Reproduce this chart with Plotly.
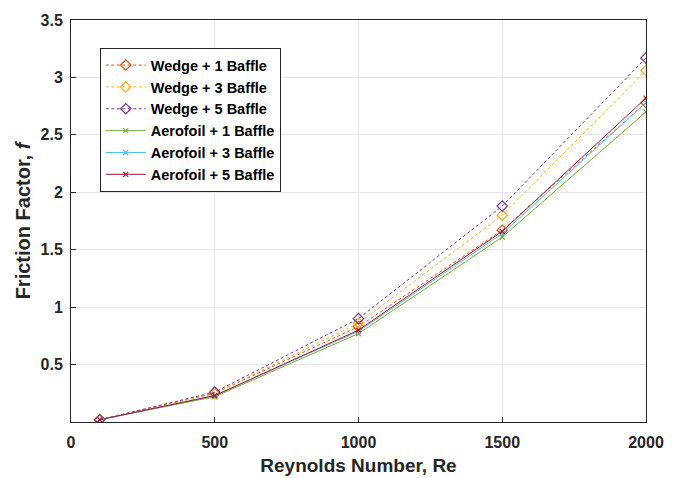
import plotly.graph_objects as go

# Reynolds numbers tested
re = [100, 500, 1000, 1500, 2000]

# Friction factor for each baffle configuration
wedge_1 = [0.02, 0.25, 0.83, 1.67, 2.78]
wedge_3 = [0.02, 0.25, 0.86, 1.80, 3.06]
wedge_5 = [0.02, 0.26, 0.90, 1.88, 3.17]
aero_1 = [0.02, 0.22, 0.77, 1.61, 2.70]
aero_3 = [0.02, 0.23, 0.79, 1.64, 2.78]
aero_5 = [0.02, 0.23, 0.80, 1.66, 2.82]

x_ticks = [0, 500, 1000, 1500, 2000]
y_ticks = [0.5, 1, 1.5, 2, 2.5, 3, 3.5]

font = "Liberation Sans, Arial, sans-serif"
ink = "#262626"

series = [
    ("Wedge + 1 Baffle", wedge_1, "#D95319", "3px,2.5px", "diamond-open", 8),
    ("Wedge + 3 Baffle", wedge_3, "#EDB120", "3px,2.5px", "diamond-open", 8),
    ("Wedge + 5 Baffle", wedge_5, "#7E2F8E", "3px,2.5px", "diamond-open", 8),
    ("Aerofoil + 1 Baffle", aero_1, "#77AC30", "solid", "x-thin-open", 5),
    ("Aerofoil + 3 Baffle", aero_3, "#4DBEEE", "solid", "x-thin-open", 5),
    ("Aerofoil + 5 Baffle", aero_5, "#A2142F", "solid", "x-thin-open", 5),
]

fig = go.Figure()
for name, vals, color, dash, sym, size in series:
    fig.add_trace(go.Scatter(
        x=re, y=vals, name=name, mode="lines+markers",
        line=dict(color=color, width=1, dash=dash),
        marker=dict(symbol=sym, size=size, color=color,
                    line=dict(color=color, width=1.2)),
    ))

axis_common = dict(
    showline=True, linecolor=ink, linewidth=1, mirror=True,
    ticks="inside", ticklen=5, tickcolor=ink,
    showgrid=True, gridcolor="#E6E6E6", gridwidth=1,
    zeroline=False, automargin=False,
    tickfont=dict(family=font, size=16, color=ink, weight="bold"),
)

fig.update_xaxes(
    range=[0, 2000], tickvals=x_ticks, ticktext=[str(v) for v in x_ticks],
    ticklabelstandoff=6,
    title=dict(text="Reynolds Number, Re", standoff=8,
               font=dict(family=font, size=19, color=ink, weight="bold")),
    **axis_common,
)
fig.update_yaxes(
    range=[0, 3.5], tickvals=y_ticks, ticktext=["0.5", "1", "1.5", "2", "2.5", "3", "3.5"],
    ticklabelstandoff=4,
    title=dict(text="Friction Factor, <i>f</i>", standoff=4,
               font=dict(family=font, size=20, color=ink, weight="bold")),
    **axis_common,
)

fig.update_layout(
    width=682, height=478,
    margin=dict(l=71, r=36, t=20, b=56),
    paper_bgcolor="white", plot_bgcolor="white",
    legend=dict(
        x=0.05, y=0.93, xanchor="left", yanchor="top",
        bgcolor="white", bordercolor=ink, borderwidth=1,
        font=dict(family=font, size=14.5, color="#000000", weight="bold"),
        tracegroupgap=0, itemwidth=40,
    ),
)

fig.write_html("out.html")
